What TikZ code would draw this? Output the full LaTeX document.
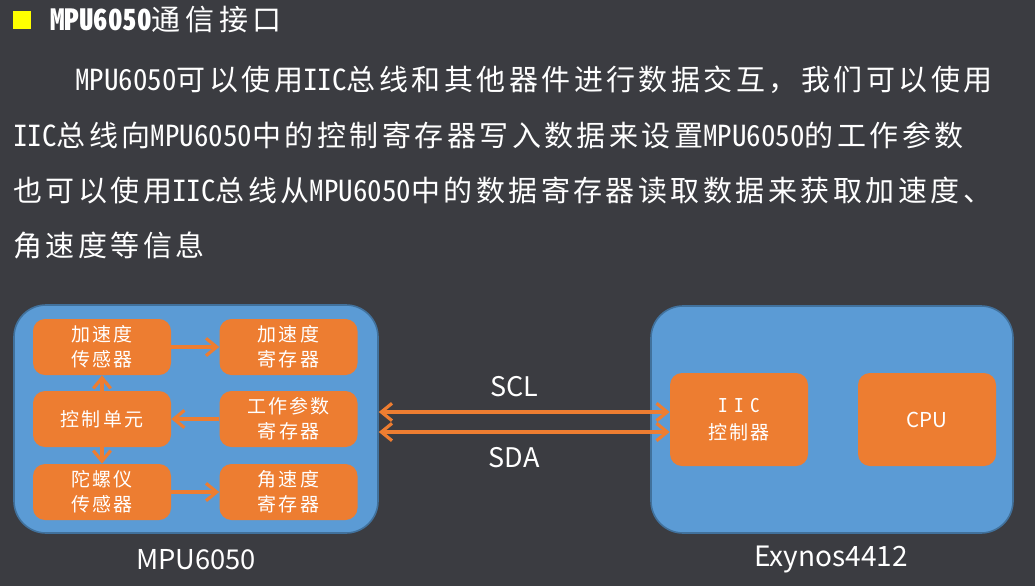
\documentclass[tikz,border=0pt]{standalone}
\usepackage{fontspec}
\setmainfont{Noto Sans CJK SC}
\newfontfamily\cjkf[LetterSpace=12]{Noto Sans CJK SC}
\newfontfamily\latf[CharacterWidth=Half]{Noto Sans CJK SC}
\newfontfamily\latp{Noto Sans CJK SC}
\usetikzlibrary{arrows.meta}
\definecolor{bg}{HTML}{3B3C41}
\definecolor{blu}{HTML}{5B9BD5}
\definecolor{bluedge}{HTML}{41719C}
\definecolor{org}{HTML}{ED7D31}
\definecolor{yel}{HTML}{FFFF00}
\newcommand\parafont{\cjkf\fontsize{21.75pt}{26pt}\selectfont}
\newcommand\boxfont{\cjkf\fontsize{14.25pt}{18.75pt}\selectfont}
\begin{document}
\begin{tikzpicture}[x=0.75pt,y=-0.75pt,
  obox/.style={fill=org, rounded corners=9pt, minimum width=103.5pt, minimum height=42pt, text=white, align=center, inner sep=0pt, font=\boxfont},
  bigbox/.style={fill=org, rounded corners=9pt, minimum width=103.5pt, minimum height=69.75pt, text=white, align=center, inner sep=0pt},
  outerbox/.style={fill=blu, draw=bluedge, line width=1.2pt, rounded corners=24pt, minimum width=273pt, minimum height=171pt, inner sep=0pt},
  tipb/.tip={Straight Barb[length=8pt,width=13pt]},
  arr/.style={draw=org, line width=2.4pt, -tipb},
  darr/.style={draw=org, line width=2.4pt, tipb-tipb},
  wtxt/.style={text=white, inner sep=0pt},
  paraline/.style={wtxt, anchor=west, font=\parafont}]

\fill[bg] (0,0) rectangle (1035,586);

% title
\node[fill=yel, minimum width=13.5pt, minimum height=14pt, inner sep=0pt] (sq) at (22,20) {};
\node[wtxt, anchor=west, font=\parafont\addfontfeature{LetterSpace=16}] (title) at (50,20) {{\latf\bfseries MPU6050}通信接口};

% paragraph
\node[paraline] (l1) at (75,80) {{\latf MPU6050}可以使用{\latf IIC}总线和其他器件进行数据交互，我们可以使用};
\node[paraline] (l2) at (13,135) {{\latf IIC}总线向{\latf MPU6050}中的控制寄存器写入数据来设置{\latf MPU6050}的工作参数};
\node[paraline] (l3) at (13,190) {也可以使用{\latf IIC}总线从{\latf MPU6050}中的数据寄存器读取数据来获取加速度、};
\node[paraline] (l4) at (13,245) {角速度等信息};

% outer boxes
\node[outerbox] (mpu) at (196,419) {};
\node[outerbox, minimum width=271.5pt, minimum height=170.25pt] (exy) at (832,419.5) {};

% inner boxes MPU6050
\node[obox] (acs) at (102,347) {加速度\\传感器};
\node[obox] (acr) at (288.5,347) {加速度\\寄存器};
\node[obox] (ctl) at (102,419) {控制单元};
\node[obox] (wpr) at (288.5,419) {工作参数\\寄存器};
\node[obox] (gys) at (102,492) {陀螺仪\\传感器};
\node[obox] (gyr) at (288.5,492) {角速度\\寄存器};

% inner boxes Exynos
\node[bigbox, font=\boxfont] (iic) at (739,419.5) {{\latf I\,\,I\,\,C}\\[2pt]控制器};
\node[bigbox, font=\latp\fontsize{15.4pt}{18pt}\selectfont] (cpu) at (927,419.5) {CPU};

% arrows inside MPU6050
\draw[arr] (acs) -- (acr);
\draw[arr] (wpr) -- (ctl);
\draw[arr] (gys) -- (gyr);
\draw[arr] (ctl) -- (acs);
\draw[arr] (ctl) -- (gys);

% bus arrows
\draw[darr] ([yshift=5.25pt]mpu.east) -- ([yshift=5.25pt]mpu.east -| iic.west);
\draw[darr] ([yshift=-9.75pt]mpu.east) -- ([yshift=-9.75pt]mpu.east -| iic.west);

% labels
\node[wtxt, font=\latp\fontsize{20.25pt}{24pt}\selectfont] (scl) at (514,387) {SCL};
\node[wtxt, font=\latp\fontsize{20.25pt}{24pt}\selectfont] (sda) at (514,458) {SDA};
\node[wtxt, font=\latp\fontsize{20.5pt}{24pt}\selectfont] (mpul) at (196,560) {MPU6050};
\node[wtxt, font=\latp\fontsize{21pt}{24pt}\selectfont] (exyl) at (831,560) {Exynos4412};
\end{tikzpicture}
\end{document}
